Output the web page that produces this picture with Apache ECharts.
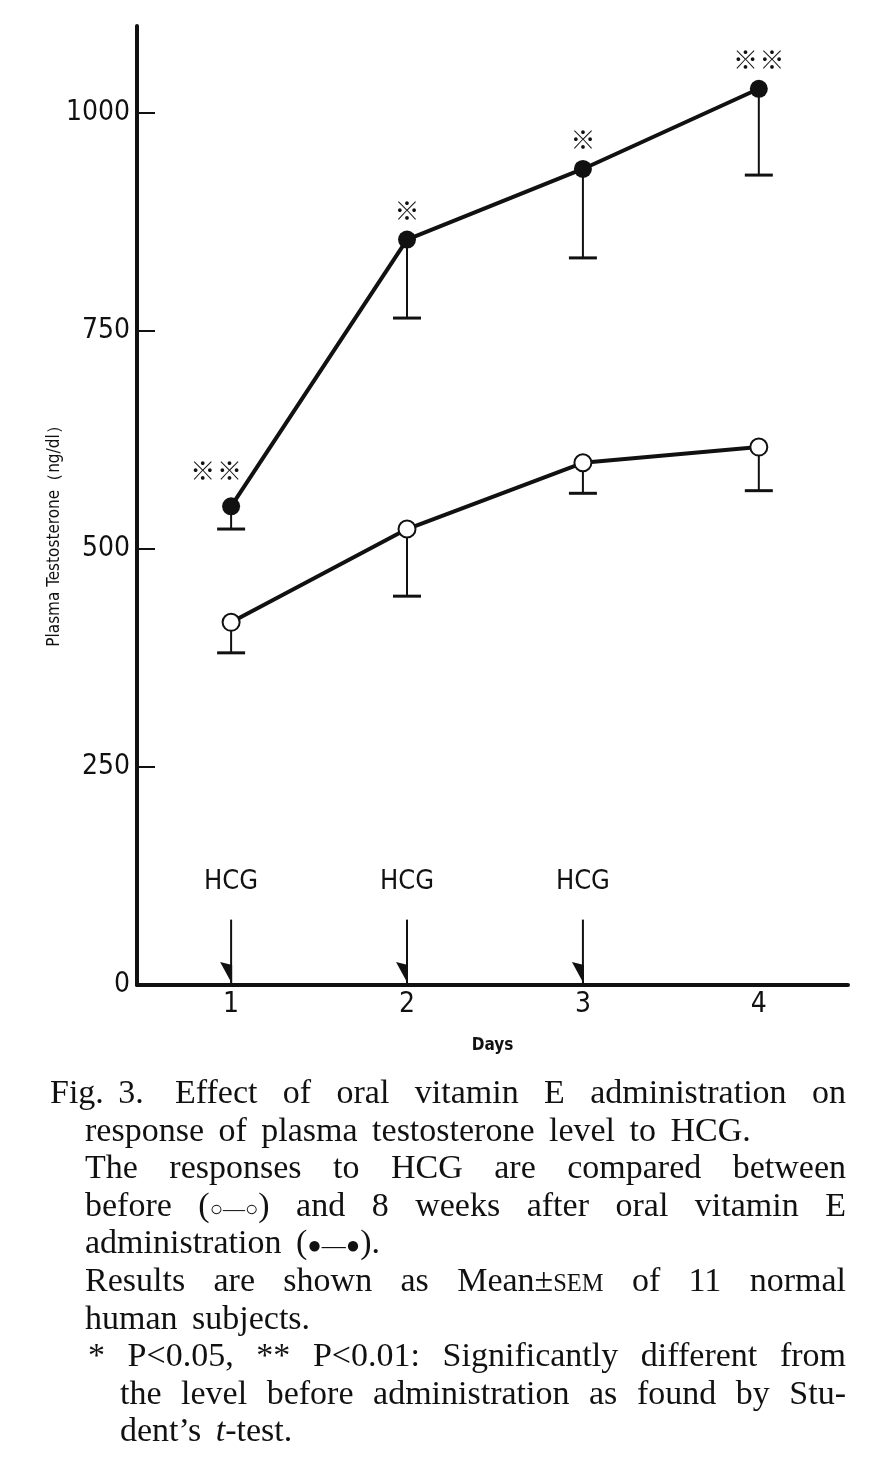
<!DOCTYPE html>
<html>
<head>
<meta charset="utf-8">
<script src="https://cdn.jsdelivr.net/npm/echarts@6/dist/echarts.min.js"></script>
<style>
body{margin:0;background:#fff;}
#chart{position:absolute;left:0;top:0;width:870px;height:1474px;}
#caption{position:absolute;left:0;top:1073px;width:870px;height:400px;font-family:'Liberation Serif','Times New Roman',serif;font-size:34px;line-height:37.6px;word-spacing:6px;color:#111;}
.ln{position:absolute;white-space:nowrap;}
.j{text-align:justify;text-align-last:justify;white-space:normal;}
.sym{display:inline-block;font-size:22px;word-spacing:0;}
.sc{font-size:0.72em;}
</style>
</head>
<body>
<div id="chart"></div>
<div id="caption">
  <div class="ln" style="left:50px;top:0px;">Fig. 3.</div>
  <div class="ln j" style="left:175px;width:671px;top:0px;">Effect of oral vitamin E administration on</div>
  <div class="ln" style="left:85px;top:37.6px;">response of plasma testosterone level to HCG.</div>
  <div class="ln j" style="left:85px;width:761px;top:75.2px;">The responses to HCG are compared between</div>
  <div class="ln j" style="left:85px;width:761px;top:112.8px;">before <span class="sym" style="font-size:34px;">(<span style="font-size:22px;">○—○</span>)</span> and 8 weeks after oral vitamin E</div>
  <div class="ln" style="left:85px;top:150.4px;">administration <span class="sym" style="font-size:34px;">(<span style="font-size:24px;">●—●</span>)</span>.</div>
  <div class="ln j" style="left:85px;width:761px;top:188px;">Results are shown as Mean±<span class="sc">SEM</span> of 11 normal</div>
  <div class="ln" style="left:85px;top:225.6px;">human subjects.</div>
  <div class="ln j" style="left:88px;width:758px;top:263.2px;">* P&lt;0.05, ** P&lt;0.01: Significantly different from</div>
  <div class="ln j" style="left:120px;width:726px;top:300.8px;">the level before administration as found by Stu-</div>
  <div class="ln" style="left:120px;top:338.4px;">dent’s <i>t</i>-test.</div>
</div>
<script>
// 数据
var days = [1, 2, 3, 4];
var beforeMean = [416, 523, 599, 617];
var beforeLow = [381, 446, 564, 567];
var afterMean = [549, 855, 936, 1028];
var afterLow = [523, 765, 834, 929];
var sigMarks = ['※\u200a※', '※', '※', '※\u200a※'];
var hcgDays = [1, 2, 3];
var hcgArrowTop = 75;
var hcgLabelLevel = 118;
var yTicks = [0, 250, 500, 750, 1000];

var sans = '"Liberation Sans Narrow", "DejaVu Sans Condensed", "Liberation Sans", sans-serif';
var ink = '#111';

var chart = echarts.init(document.getElementById('chart'));

function errRender(params, api) {
  var top = api.coord([api.value(0), api.value(1)]);
  var bot = api.coord([api.value(0), api.value(2)]);
  return {
    type: 'group',
    children: [
      {type: 'line', shape: {x1: top[0], y1: top[1], x2: bot[0], y2: bot[1]}, style: {stroke: ink, lineWidth: 2}},
      {type: 'line', shape: {x1: bot[0] - 14, y1: bot[1], x2: bot[0] + 14, y2: bot[1]}, style: {stroke: ink, lineWidth: 3}}
    ]
  };
}

function hcgRender(params, api) {
  var d = api.value(0);
  var t = api.coord([d, hcgArrowTop]);
  var b = api.coord([d, 0]);
  var lab = api.coord([d, hcgLabelLevel]);
  return {
    type: 'group',
    children: [
      {type: 'line', shape: {x1: t[0], y1: t[1], x2: b[0], y2: b[1] - 2}, style: {stroke: ink, lineWidth: 2}},
      {type: 'polygon', shape: {points: [[b[0] - 11, b[1] - 23], [b[0] + 1, b[1] - 20], [b[0] + 1, b[1] - 1]]}, style: {fill: ink}},
      {type: 'text', x: lab[0], y: lab[1], style: {text: 'HCG', font: '27px ' + sans, fill: ink, align: 'center', verticalAlign: 'middle'}}
    ]
  };
}

var afterData = days.map(function (d, i) {
  return {
    value: [d, afterMean[i]],
    label: {
      show: true,
      position: 'top',
      distance: 8,
      offset: i === 0 ? [-15, -6] : [0, 0],
      formatter: sigMarks[i],
      fontSize: 25,
      fontFamily: '"Noto Sans CJK JP", sans-serif',
      color: ink
    }
  };
});

option = {
  backgroundColor: '#fff',
  animation: false,
  grid: {left: 137, right: 22, top: 26, bottom: 489},
  xAxis: {
    type: 'value',
    min: 0.465,
    max: 4.507,
    axisLine: {lineStyle: {color: ink, width: 4}},
    axisTick: {show: false},
    splitLine: {show: false},
    axisLabel: {customValues: days, fontSize: 28, margin: 6, color: ink, fontFamily: sans},
    name: 'Days',
    nameLocation: 'middle',
    nameGap: 52,
    nameTextStyle: {fontSize: 17, color: ink, fontFamily: sans, fontWeight: 'bold'}
  },
  yAxis: {
    type: 'value',
    min: 0,
    max: 1100,
    axisLine: {show: true, lineStyle: {color: ink, width: 4}},
    axisTick: {show: true, inside: true, length: 18, customValues: [250, 500, 750, 1000], lineStyle: {color: ink, width: 2}},
    splitLine: {show: false},
    axisLabel: {
      customValues: yTicks,
      fontSize: 28,
      margin: 7,
      color: ink,
      fontFamily: sans,
      formatter: function (v) { return String(v); }
    }
  },
  graphic: [{
    type: 'text',
    x: 55,
    y: 532,
    rotation: Math.PI / 2,
    style: {text: 'Plasma Testosterone（ng/dl）', font: '17px ' + sans, fill: ink, align: 'center', verticalAlign: 'middle'}
  }],
  series: [
    {
      type: 'custom',
      name: 'before SEM',
      renderItem: errRender,
      clip: false,
      z: 1,
      data: days.map(function (d, i) { return [d, beforeMean[i], beforeLow[i]]; })
    },
    {
      type: 'custom',
      name: 'after SEM',
      renderItem: errRender,
      clip: false,
      z: 1,
      data: days.map(function (d, i) { return [d, afterMean[i], afterLow[i]]; })
    },
    {
      type: 'custom',
      name: 'HCG',
      renderItem: hcgRender,
      clip: false,
      z: 1,
      data: hcgDays.map(function (d) { return [d]; })
    },
    {
      type: 'line',
      name: 'before',
      z: 3,
      symbol: 'circle',
      symbolSize: 17,
      lineStyle: {color: ink, width: 4},
      itemStyle: {color: '#fff', borderColor: ink, borderWidth: 2},
      data: days.map(function (d, i) { return [d, beforeMean[i]]; })
    },
    {
      type: 'line',
      name: 'after',
      z: 3,
      symbol: 'circle',
      symbolSize: 18,
      lineStyle: {color: ink, width: 4},
      itemStyle: {color: ink, borderColor: ink, borderWidth: 0},
      data: afterData
    }
  ]
};

chart.setOption(option);
</script>
</body>
</html>
